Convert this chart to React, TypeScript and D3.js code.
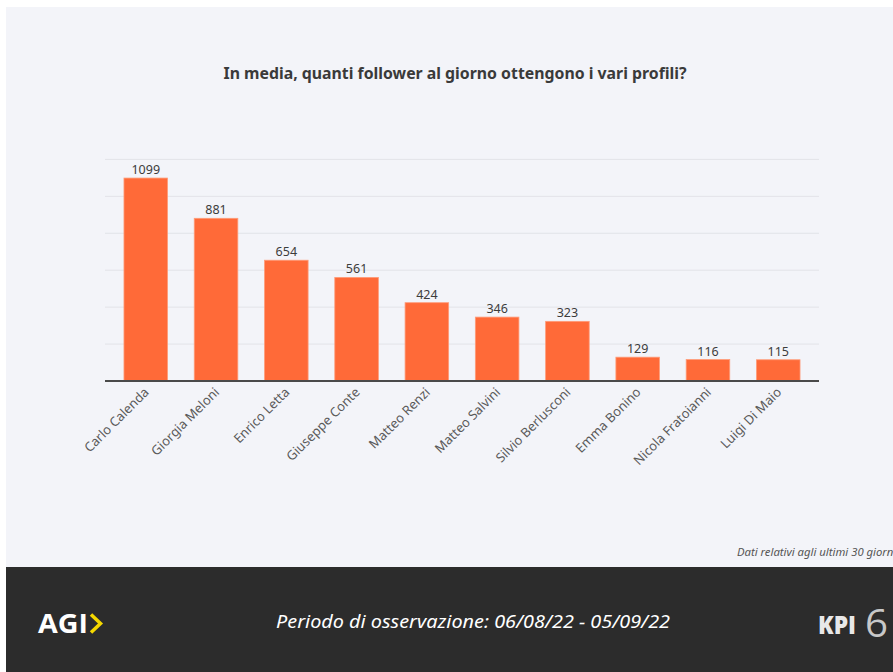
import React from "react";
import * as d3 from "d3";

const names = [
  "Carlo Calenda",
  "Giorgia Meloni",
  "Enrico Letta",
  "Giuseppe Conte",
  "Matteo Renzi",
  "Matteo Salvini",
  "Silvio Berlusconi",
  "Emma Bonino",
  "Nicola Fratoianni",
  "Luigi Di Maio",
];
const values = [1099, 881, 654, 561, 424, 346, 323, 129, 116, 115];
const gridTicks = [0, 200, 400, 600, 800, 1000, 1200];

const title = "In media, quanti follower al giorno ottengono i vari profili?";
const footnote = "Dati relativi agli ultimi 30 giorni";
const period = "Periodo di osservazione: 06/08/22 - 05/09/22";

const W = 893;
const H = 672;

export default function App() {
  const x = d3
    .scaleBand<string>()
    .domain(names)
    .range([105, 819])
    .paddingInner(0.38)
    .paddingOuter(0.27);
  const y = d3.scaleLinear().domain([0, 1200]).range([381, 159.4]);

  const font = "'Noto Sans', 'Open Sans', sans-serif";

  return (
    <svg
      width={W}
      height={H}
      style={{ position: "absolute", left: 0, top: 0, display: "block" }}
    >
      <rect x={0} y={0} width={W} height={H} fill="#ffffff" />
      <rect x={6} y={7} width={W - 6} height={560} fill="#f3f4f9" />
      <rect x={6} y={567} width={W - 6} height={H - 567} fill="#2c2c2c" />

      <text
        x={455}
        y={79}
        textAnchor="middle"
        fontFamily={font}
        fontWeight={700}
        fontSize={15.5}
        fill="#3a3a3a"
        textLength={463}
        lengthAdjust="spacingAndGlyphs"
      >
        {title}
      </text>

      {gridTicks.slice(1).map((t) => (
        <line
          key={t}
          x1={105}
          x2={819}
          y1={y(t)}
          y2={y(t)}
          stroke="#e2e3e8"
          strokeWidth={1}
        />
      ))}

      {names.map((n, i) => (
        <g key={n}>
          <rect
            x={x(n)!}
            y={y(values[i])}
            width={x.bandwidth()}
            height={y(0) - y(values[i])}
            fill="#ff6a38"
            stroke="#ff9b78"
            strokeWidth={0.8}
          />
          <text
            x={x(n)! + x.bandwidth() / 2}
            y={y(values[i]) - 4}
            textAnchor="middle"
            fontFamily={font}
            fontSize={12.5}
            fill="#3c3c3c"
          >
            {values[i]}
          </text>
          <text
            transform={`translate(${x(n)! + x.bandwidth() / 2 + 4},${y(0) + 12}) rotate(-45)`}
            textAnchor="end"
            fontFamily={font}
            fontSize={13}
            fill="#5a5a5a"
          >
            {n}
          </text>
        </g>
      ))}

      <line x1={105} x2={819} y1={381} y2={381} stroke="#4a4a4a" strokeWidth={2} />

      <text
        x={737}
        y={556}
        fontFamily={font}
        fontStyle="italic"
        fontSize={11.3}
        fill="#555"
      >
        {footnote}
      </text>

      <text
        x={473}
        y={628}
        textAnchor="middle"
        fontFamily={font}
        fontStyle="italic"
        fontSize={18}
        fill="#ffffff"
        textLength={394}
        lengthAdjust="spacingAndGlyphs"
      >
        {period}
      </text>

      <text
        x={38}
        y={633}
        fontFamily="'Open Sans', sans-serif"
        fontWeight={700}
        fontSize={26}
        fill="#ffffff"
        textLength={50}
        lengthAdjust="spacingAndGlyphs"
      >
        AGI
      </text>
      <path d="M91,614.5 L100.5,623.5 L91,632.5" fill="none" stroke="#f5d800" strokeWidth={3.5} />

      <text
        x={818}
        y={634}
        fontFamily="'Open Sans', sans-serif"
        fontWeight={800}
        fontSize={25}
        fill="#e8e8e8"
        textLength={38}
        lengthAdjust="spacingAndGlyphs"
      >
        KPI
      </text>
      <text
        x={865}
        y={637}
        fontFamily="'Open Sans', sans-serif"
        fontWeight={400}
        fontSize={39}
        fill="#c8c8c8"
        textLength={23}
        lengthAdjust="spacingAndGlyphs"
      >
        6
      </text>
    </svg>
  );
}
